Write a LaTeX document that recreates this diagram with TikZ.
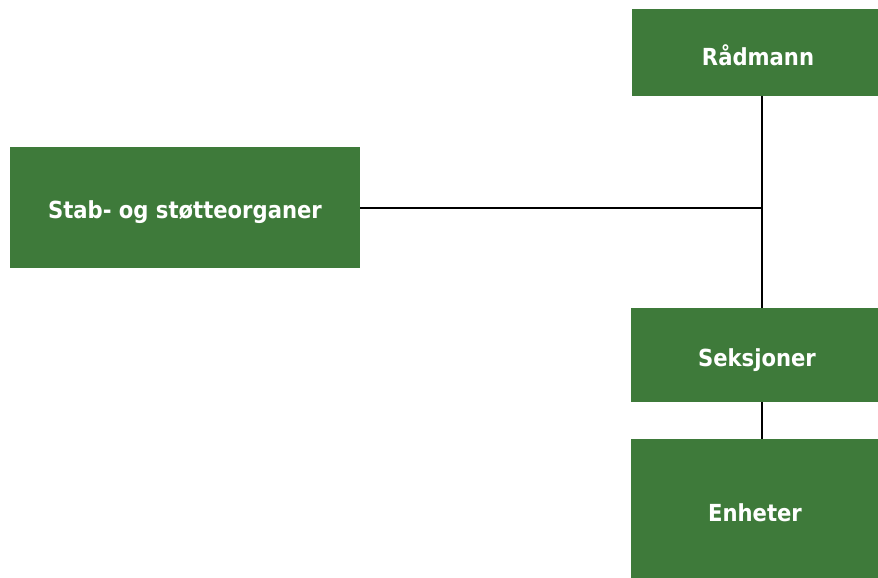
\documentclass[tikz,border=0pt]{standalone}
\usepackage{fontspec}
\setmainfont{DejaVu Sans}
\newfontfamily\boxfont{DejaVu Sans Condensed}
\definecolor{boxgreen}{HTML}{3E7A3A}
\tikzset{
  orgbox/.style={fill=boxgreen, draw=none},
  orglabel/.style={text=white, font=\boxfont\bfseries\fontsize{23.5}{27}\selectfont, inner sep=0pt},
  conn/.style={draw=black, line width=1.6pt}
}
\begin{document}
\begin{tikzpicture}[x=1pt,y=-1pt]
\useasboundingbox (0,0) rectangle (878,578);
\clip (0,0) rectangle (878,578);
% boxes
\node[orgbox, minimum width=262pt, minimum height=87pt, anchor=north west] (rad) at (632,9) {};
\node[orgbox, minimum width=350pt, minimum height=121pt, anchor=north west] (stab) at (10,147) {};
\node[orgbox, minimum width=262pt, minimum height=94pt, anchor=north west] (seks) at (631,308) {};
\node[orgbox, minimum width=262pt, minimum height=160pt, anchor=north west] (enh) at (631,439) {};
% labels
\node[orglabel] (radt) at (758,55) {Rådmann};
\node[orglabel] (stabt) at (185,212) {Stab- og støtteorganer};
\node[orglabel] (sekst) at (757,360) {Seksjoner};
\node[orglabel] (enht) at (755,513) {Enheter};
% connectors
\coordinate (j) at (762,207);
\draw[conn] (rad.south -| j) -- (seks.north -| j);
\draw[conn] (stab.east) -- (stab.east -| j);
\draw[conn] (seks.south -| j) -- (enh.north -| j);
\end{tikzpicture}
\end{document}
